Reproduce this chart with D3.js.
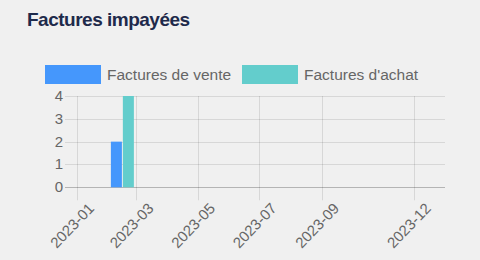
<!DOCTYPE html>
<html lang="fr">
<head>
<meta charset="utf-8">
<script src="https://d3js.org/d3.v7.min.js"></script>
<style>
  body { margin: 0; background: #f0f0f0; }
  text { font-family: "Liberation Sans", Arial, Helvetica, sans-serif; }
</style>
</head>
<body>
<script>
// data
var dates = ["2023-02-15"];
var series = ["Factures de vente", "Factures d'achat"];
var colors = ["#4597fc", "#63cdcc"];
var vente = [2];
var achat = [4];
var xTicks = ["2023-01", "2023-03", "2023-05", "2023-07", "2023-09", "2023-12"];
var yTicks = [0, 1, 2, 3, 4];

var width = 480, height = 260;
var plotLeft = 77, plotRight = 445, plotTop = 96, plotBottom = 187.3;

var parseDay = d3.timeParse("%Y-%m-%d");
var parseMonth = d3.timeParse("%Y-%m");

var svg = d3.select("body").append("svg")
    .attr("width", width)
    .attr("height", height);

var x = d3.scaleTime()
    .domain([new Date(2023, 0, 1), new Date(2024, 0, 1)])
    .range([plotLeft, plotRight]);

var y = d3.scaleLinear()
    .domain([0, 4])
    .range([plotBottom, plotTop]);

var sub = d3.scaleBand()
    .domain(series)
    .range([-11.5, 11.5])
    .paddingInner(0.08);

// title
svg.append("text")
    .attr("x", 27)
    .attr("y", 25.7)
    .attr("fill", "#1e2a4b")
    .attr("font-size", "19px")
    .attr("font-weight", "bold")
    .attr("letter-spacing", "-0.5px")
    .text("Factures impayées");

// legend
var legendX = [45, 242];
var legend = svg.selectAll(".leg")
    .data(series)
    .enter().append("g")
    .attr("class", "leg")
    .attr("transform", function(d, i) { return "translate(" + legendX[i] + ",65)"; });
legend.append("rect")
    .attr("width", 56)
    .attr("height", 19)
    .attr("fill", function(d, i) { return colors[i]; });
legend.append("text")
    .attr("x", 62)
    .attr("y", 15)
    .attr("font-size", "15.5px")
    .attr("fill", "#666")
    .text(function(d) { return d; });

// horizontal grid
svg.append("g")
    .selectAll("line")
    .data(yTicks)
    .enter().append("line")
    .attr("x1", plotLeft - 12)
    .attr("x2", plotRight)
    .attr("y1", function(d) { return Math.round(y(d)) + 0.5; })
    .attr("y2", function(d) { return Math.round(y(d)) + 0.5; })
    .attr("stroke", function(d) { return d === 0 ? "rgba(0,0,0,0.25)" : "rgba(0,0,0,0.1)"; })
    .attr("stroke-width", 1);

// vertical grid
svg.append("g")
    .selectAll("line")
    .data(xTicks)
    .enter().append("line")
    .attr("x1", function(d) { return Math.round(x(parseMonth(d))) + 0.5; })
    .attr("x2", function(d) { return Math.round(x(parseMonth(d))) + 0.5; })
    .attr("y1", plotTop)
    .attr("y2", plotBottom + 13)
    .attr("stroke", "rgba(0,0,0,0.1)")
    .attr("stroke-width", 1);

// y labels
svg.append("g")
    .selectAll("text")
    .data(yTicks)
    .enter().append("text")
    .attr("x", 63)
    .attr("y", function(d) { return y(d) + 5; })
    .attr("text-anchor", "end")
    .attr("font-size", "15px")
    .attr("fill", "#666")
    .text(function(d) { return d; });

// x labels
svg.append("g")
    .selectAll("text")
    .data(xTicks)
    .enter().append("text")
    .attr("transform", function(d) {
      return "translate(" + (x(parseMonth(d)) + 18) + "," + (plotBottom + 22) + ") rotate(-46)";
    })
    .attr("text-anchor", "end")
    .attr("font-size", "15px")
    .attr("fill", "#666")
    .text(function(d) { return d; });

// bars
var rows = dates.map(function(d, i) {
  return { date: parseDay(d), values: [vente[i], achat[i]] };
});
var groups = svg.selectAll(".grp")
    .data(rows)
    .enter().append("g")
    .attr("class", "grp")
    .attr("transform", function(d) { return "translate(" + x(d.date) + ",0)"; });
groups.selectAll("rect")
    .data(function(d) { return d.values.map(function(v, i) { return { s: series[i], v: v, i: i }; }); })
    .enter().append("rect")
    .attr("x", function(d) { return sub(d.s); })
    .attr("width", sub.bandwidth())
    .attr("y", function(d) { return y(d.v); })
    .attr("height", function(d) { return y(0) - y(d.v); })
    .attr("fill", function(d) { return colors[d.i]; });
</script>
</body>
</html>
